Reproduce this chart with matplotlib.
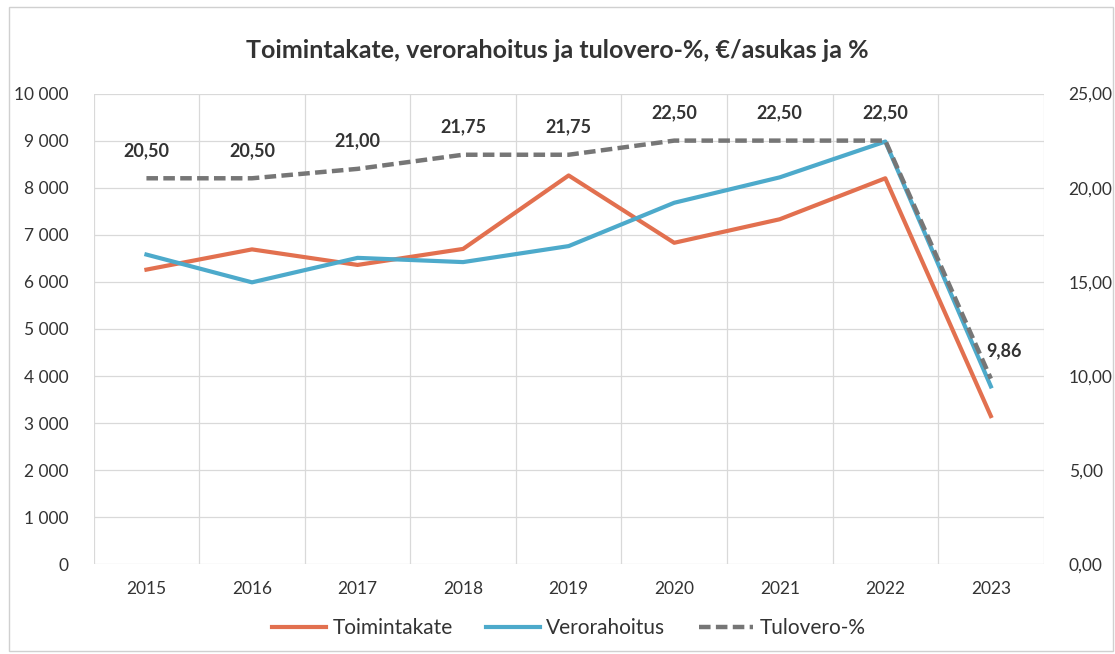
import numpy as np
import matplotlib.pyplot as plt
import matplotlib as mpl
from matplotlib.ticker import FuncFormatter, MultipleLocator

mpl.rcParams["font.family"] = ["Lato", "DejaVu Sans"]

years = ["2015", "2016", "2017", "2018", "2019", "2020", "2021", "2022", "2023"]
toimintakate = [6260, 6690, 6360, 6700, 8260, 6830, 7330, 8200, 3150]
verorahoitus = [6580, 5990, 6510, 6420, 6760, 7680, 8220, 8980, 3780]
tulovero = [20.50, 20.50, 21.00, 21.75, 21.75, 22.50, 22.50, 22.50, 9.86]

c_orange = "#E2704F"
c_blue = "#4DAACB"
c_gray = "#767676"
txt = "#333333"

fig = plt.figure(figsize=(11.15, 6.54), dpi=100)
ax = fig.add_axes([0.084, 0.137, 0.852, 0.72])
ax2 = ax.twinx()

x = np.arange(len(years))
l1, = ax.plot(x, toimintakate, color=c_orange, lw=3, label="Toimintakate")
l2, = ax.plot(x, verorahoitus, color=c_blue, lw=3, label="Verorahoitus")
l3, = ax2.plot(x, tulovero, color=c_gray, lw=3.2, ls=(0, (2.6, 1.2)), label="Tulovero-%")

for i, v in enumerate(tulovero):
    s = f"{v:.2f}".replace(".", ",")
    dx = 0.12 if i == len(tulovero) - 1 else 0
    ax2.annotate(s, (x[i] + dx, v), xytext=(0, 14), textcoords="offset points",
                 ha="center", va="bottom", fontsize=13, fontweight="bold", color=txt)

ax.set_xlim(-0.5, len(years) - 0.5)
ax.set_ylim(0, 10000)
ax2.set_ylim(0, 25)
ax.yaxis.set_major_locator(MultipleLocator(1000))
ax2.yaxis.set_major_locator(MultipleLocator(5))
ax.yaxis.set_major_formatter(FuncFormatter(lambda v, p: f"{int(v):,}".replace(",", " ")))
ax2.yaxis.set_major_formatter(FuncFormatter(lambda v, p: f"{v:.2f}".replace(".", ",")))

ax.set_xticks(x)
ax.set_xticklabels(years)
ax.set_xticks(np.arange(-0.5, len(years), 1), minor=True)
ax.grid(True, axis="y", color="#D9D9D9", lw=0.9)
ax.grid(True, axis="x", which="minor", color="#D9D9D9", lw=0.9)
ax.set_axisbelow(True)

for a in (ax, ax2):
    for sp in a.spines.values():
        sp.set_visible(False)
    a.tick_params(length=0, labelsize=12.5, colors=txt, which="both")
ax.tick_params(axis="x", pad=12)
ax.tick_params(axis="y", pad=18)
ax2.tick_params(axis="y", pad=18)

fig.suptitle("Toimintakate, verorahoitus ja tulovero-%, €/asukas ja %",
             y=0.94, fontsize=18, fontweight="bold", color=txt)

fig.legend(handles=[l1, l2, l3], loc="center", bbox_to_anchor=(0.51, 0.04),
           ncol=3, frameon=False, fontsize=15, labelcolor=txt,
           handlelength=2.6, handletextpad=0.3, columnspacing=1.6)

fig.patches.append(mpl.patches.Rectangle((0.008, 0.005), 0.99, 0.985, transform=fig.transFigure,
                                         fill=False, edgecolor="#D0D0D0", lw=1))

fig.savefig("out.png", dpi=100)
